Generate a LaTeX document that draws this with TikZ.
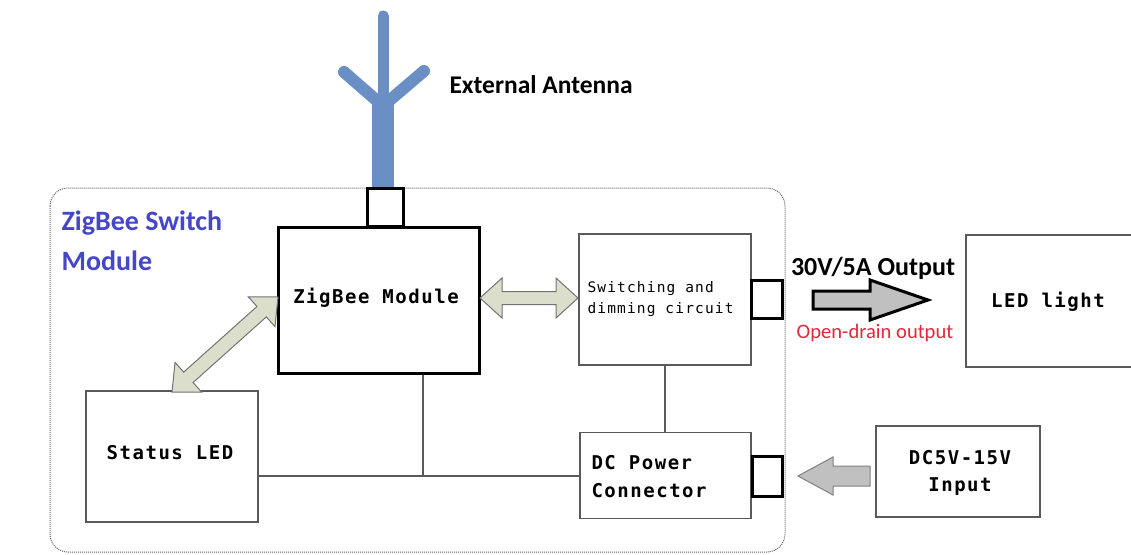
\documentclass[tikz,border=0pt]{standalone}
\usepackage{fontspec}
\usetikzlibrary{calc}
\newfontfamily\monof[LetterSpace=8]{DejaVu Sans Mono}
\newfontfamily\calf{Carlito}
\definecolor{zbblue}{RGB}{70,70,200}
\definecolor{antblue}{RGB}{106,143,196}
\definecolor{khaki}{RGB}{220,222,204}
\definecolor{arrgray}{RGB}{192,192,192}
\definecolor{odred}{RGB}{222,40,60}
\definecolor{boxgray}{RGB}{90,90,90}
\newcommand\dblarr[5]{% A, B, shaft half, head half, head length
  \draw[khakiarrow] (#1) -- ($(#1)!#5!(#2)!#4!90:(#2)$) -- ($(#1)!#5!(#2)!#3!90:(#2)$)
   -- ($(#2)!#5!(#1)!#3!-90:(#1)$) -- ($(#2)!#5!(#1)!#4!-90:(#1)$) -- (#2)
   -- ($(#2)!#5!(#1)!#4!90:(#1)$) -- ($(#2)!#5!(#1)!#3!90:(#1)$)
   -- ($(#1)!#5!(#2)!#3!-90:(#2)$) -- ($(#1)!#5!(#2)!#4!-90:(#2)$) -- cycle;}
\newcommand\sglarr[6]{% style, tail, tip, shaft half, head half, head length
  \draw[#1] ($(#2)!#4!90:(#3)$) -- ($(#3)!#6!(#2)!#4!-90:(#2)$) -- ($(#3)!#6!(#2)!#5!-90:(#2)$)
   -- (#3) -- ($(#3)!#6!(#2)!#5!90:(#2)$) -- ($(#3)!#6!(#2)!#4!90:(#2)$)
   -- ($(#2)!#4!-90:(#3)$) -- cycle;}
\tikzset{
  thinbox/.style={draw=boxgray, line width=1.2pt, fill=white, inner sep=0pt},
  thickbox/.style={draw=black, line width=3pt, fill=white, inner sep=0pt},
  monotext/.style={font=\monof\bfseries\fontsize{19}{28}\selectfont, text=black},
  wire/.style={draw=boxgray, line width=1.2pt},
  khakiarrow/.style={draw=gray!90!black, line width=1pt, fill=khaki, line join=miter},
  outarrow/.style={draw=black, line width=3pt, fill=arrgray, line join=miter},
  inarrow/.style={draw=gray, line width=1pt, fill=arrgray},
  frame/.style={draw=gray!80!black, line width=1pt, densely dotted, rounded corners=18pt},
  antenna/.style={draw=antblue, line cap=round, line join=round},
}
\begin{document}
\begin{tikzpicture}[x=1pt,y=-1pt]
\useasboundingbox (0,0) rectangle (1131,554);
\fill[white] (0,0) rectangle (1131,554);
% outer frame
\draw[frame] (50,188) rectangle (785,552);
\node[anchor=west, font=\calf\bfseries\fontsize{28}{40}\selectfont, text=zbblue, align=left] (title) at (58,241) {ZigBee Switch\\Module};
% antenna
\fill[antblue] (372,104) rectangle (394,190);
\draw[antenna, line width=11pt] (383,16) -- (383,110);
\draw[antenna, line width=12pt] (344,72) -- (383,106) -- (424,71);
\node[anchor=west, font=\calf\bfseries\fontsize{25.5}{30}\selectfont] (ext) at (446,85) {External Antenna};
% boxes
\node[thickbox, minimum width=201pt, minimum height=146pt] (zb) at (378.5,300) {};
\node[monotext] (zbt) at (376,298) {ZigBee Module};
\node[thickbox, minimum width=36pt, minimum height=38pt] (con1) at (385,207) {};
\node[thinbox, minimum width=172pt, minimum height=131pt] (sw) at (665,299.5) {};
\node[anchor=west, align=left, font=\monof\fontsize{14.5}{21}\selectfont] (swt) at (584,299) {Switching and\\dimming circuit};
\node[thickbox, minimum width=31pt, minimum height=38pt] (con2) at (767,299) {};
\node[thinbox, minimum width=172pt, minimum height=131pt] (sl) at (172,456.5) {};
\node[monotext] (slt) at (170,453) {Status LED};
\node[thinbox, minimum width=171pt, minimum height=86pt] (dc) at (665.5,475.5) {};
\node[monotext, anchor=west, align=left] (dct) at (588,477) {DC Power\\Connector};
\node[thickbox, minimum width=30pt, minimum height=40pt] (con3) at (767,476) {};
\node[thinbox, minimum width=164pt, minimum height=91pt] (inp) at (958,471.5) {};
\node[monotext, align=center, font=\monof\bfseries\fontsize{19}{27}\selectfont] (inpt) at (960,473) {DC5V-15V\\Input};
\node[thinbox, minimum width=176pt, minimum height=132pt] (led) at (1054,301) {};
\node[monotext] (ledt) at (1048,302) {LED light};
% wires
\coordinate (j) at (423,476);
\draw[wire] (zb.south -| j) -- (j);
\draw[wire] (sl.east |- j) -- (dc.west |- j);
\draw[wire] (sw.south) -- (sw.south |- dc.north);
% double arrows
\coordinate (h1) at (480,298);
\coordinate (h2) at (578,298);
\dblarr{h1}{h2}{6.5pt}{20pt}{22pt}
\coordinate (d1) at (278,297);
\coordinate (d2) at (172,392);
\dblarr{d1}{d2}{7pt}{20pt}{22pt}
% output arrow
\coordinate (o1) at (813,300);
\coordinate (o2) at (928,300);
\sglarr{outarrow}{o1}{o2}{9pt}{20pt}{58pt}
\node[font=\calf\bfseries\fontsize{26}{30}\selectfont] (outl) at (873,268) {30V/5A Output};
\node[font=\calf\fontsize{20.6}{24}\selectfont, text=odred] (odl) at (875,333) {Open-drain output};
% input arrow
\coordinate (i1) at (870,476);
\coordinate (i2) at (798,476);
\sglarr{inarrow}{i1}{i2}{10pt}{19pt}{35pt}
\end{tikzpicture}
\end{document}
